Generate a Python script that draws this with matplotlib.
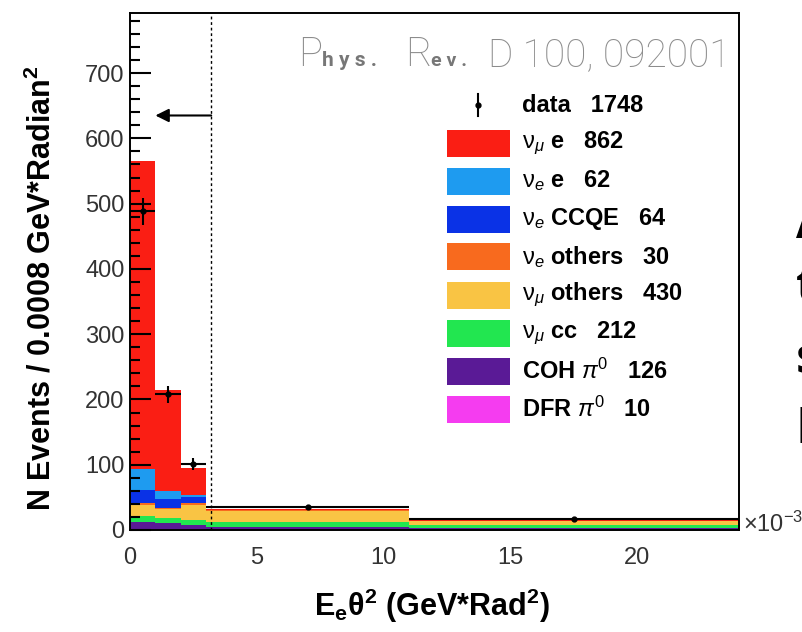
import matplotlib
matplotlib.use("Agg")
import matplotlib.pyplot as plt
from matplotlib.patches import Rectangle
import numpy as np

plt.rcParams['font.family'] = ['Liberation Sans', 'DejaVu Sans']
plt.rcParams['mathtext.fontset'] = 'custom'
plt.rcParams['mathtext.rm'] = 'Liberation Sans'
plt.rcParams['mathtext.it'] = 'Liberation Sans:italic'
plt.rcParams['mathtext.bf'] = 'Liberation Sans:bold'

# bin edges in units of 1e-3 GeV*rad^2
edges = [0, 1, 2, 3, 11, 24]

# stacked MC, bottom to top
dfr = [1.5, 1.0, 1.0, 0.5, 0.5]
coh = [11.0, 9.0, 7.0, 4.0, 2.5]
numu_cc = [8.5, 8.0, 7.0, 8.0, 4.0]
numu_oth = [17.0, 14.0, 24.0, 17.0, 6.5]
nue_oth = [4.0, 1.0, 3.0, 1.0, 0.5]
nue_ccqe = [19.0, 15.0, 9.0, 0.5, 0.2]
nue_e = [32.0, 12.0, 2.0, 0.3, 0.1]
numu_e = [472.0, 155.0, 42.0, 1.5, 0.5]

data = [488, 208, 101, 36, 17]
data_err = [20, 13, 9, 2, 1]

cut = 3.2
arrow_y = 635

stack = [dfr, coh, numu_cc, numu_oth, nue_oth, nue_ccqe, nue_e, numu_e]
colors = ['#f53cf0', '#5a1a96', '#22e650', '#f9c444', '#f86a1e', '#0a32e6', '#1e9bf0', '#fa1e14']

nu = r"$\mathrm{\nu}$"
leg_labels = ["data   1748",
              r"$\mathrm{\nu}_{\mu}$ e   862",
              r"$\mathrm{\nu}_{e}$ e   62",
              r"$\mathrm{\nu}_{e}$ CCQE   64",
              r"$\mathrm{\nu}_{e}$ others   30",
              r"$\mathrm{\nu}_{\mu}$ others   430",
              r"$\mathrm{\nu}_{\mu}$ cc   212",
              r"COH $\pi^{0}$   126",
              r"DFR $\pi^{0}$   10"]
leg_colors = [None] + colors[::-1]

W, H = 803, 632
fig = plt.figure(figsize=(W/100, H/100), dpi=100)
ax = fig.add_axes([130/W, 1-530/H, (739-130)/W, (530-13)/H])

def fx(x):
    return x / W

def fy(y):
    return 1 - y / H

bottom = np.zeros(len(edges) - 1)
for vals, c in zip(stack, colors):
    vals = np.array(vals)
    ax.stairs(bottom + vals, edges, baseline=bottom, fill=True, color=c, lw=0)
    bottom = bottom + vals

centers = [(edges[i] + edges[i+1]) / 2 for i in range(len(edges) - 1)]
halfw = [(edges[i+1] - edges[i]) / 2 for i in range(len(edges) - 1)]
ax.errorbar(centers, data, yerr=data_err, xerr=halfw, fmt='o', ms=3.5, color='k',
            lw=1.5, capsize=0, zorder=5)

ax.axvline(cut, color='k', lw=1.0, ls=(0, (2, 2)), zorder=4)
ax.annotate("", xy=(1.0, arrow_y), xytext=(cut, arrow_y),
            arrowprops=dict(arrowstyle='-|>', color='k', lw=1.5, mutation_scale=20,
                            shrinkA=0, shrinkB=0))

ax.set_xlim(0, 24)
ax.set_ylim(0, 792)
ax.set_xticks([0, 5, 10, 15, 20])
ax.set_yticks(range(0, 800, 100))
ax.set_yticks(range(0, 792, 20), minor=True)
ax.tick_params(axis='y', which='major', direction='in', length=15, width=1.5,
               labelsize=17, labelcolor='#333333', pad=4)
ax.tick_params(axis='y', which='minor', direction='in', length=7.5, width=1.5)
ax.tick_params(axis='x', which='both', length=0, labelsize=17, labelcolor='#333333', pad=12)
for s in ax.spines.values():
    s.set_linewidth(1.4)

fig.text(fx(42), fy(288), r"N Events / 0.0008 GeV*Radian$^{\mathbf{2}}$", rotation=90,
         ha='center', va='center', fontsize=22, fontweight='bold')
fig.text(fx(432), fy(606), r"E$_{\mathbf{e}}$θ$^{\mathbf{2}}$ (GeV*Rad$^{\mathbf{2}}$)",
         ha='center', va='center', fontsize=22, fontweight='bold')
fig.text(fx(743), fy(524), r"×10$^{-3}$", ha='left', va='center', fontsize=17, color='#333333')

# journal watermark
wm = '#8c8c8c'
fig.text(fx(298), fy(66), "P", fontsize=29, color=wm, family='Roboto', fontweight='light', va='baseline')
fig.text(fx(322), fy(66), "h y s .", fontsize=15, color='#777777', family='Roboto', fontweight='bold', va='baseline')
fig.text(fx(405), fy(66), "R", fontsize=29, color=wm, family='Roboto', fontweight='light', va='baseline')
fig.text(fx(431), fy(66), "e v .", fontsize=14, color='#777777', family='Roboto', fontweight='bold', va='baseline')
fig.text(fx(488), fy(66), "D 100, 092001", fontsize=28, color=wm, family='Roboto', fontweight='light', va='baseline')

# legend
for i, (lab, c) in enumerate(zip(leg_labels, leg_colors)):
    yc = 105 + 38 * i
    if c is None:
        fig.add_artist(plt.Line2D([fx(478), fx(478)], [fy(yc - 11), fy(yc + 11)], color='k', lw=1.5))
        fig.add_artist(plt.Line2D([fx(478)], [fy(yc)], marker='o', ms=3.5, color='k'))
    else:
        fig.add_artist(Rectangle((fx(447), fy(yc + 13.5)), fx(63), 27 / H, color=c, lw=0))
    fig.text(fx(522), fy(yc), lab, ha='left', va='center', fontsize=17, fontweight='bold')

# slide text cut off at the right edge
for ch, yb in zip(["A", "t", "s", "I"], [238, 301, 373, 443]):
    fig.text(fx(796), fy(yb), ch, fontsize=36, fontweight='bold', family='Open Sans', va='baseline')

fig.savefig("out.png", dpi=100)
